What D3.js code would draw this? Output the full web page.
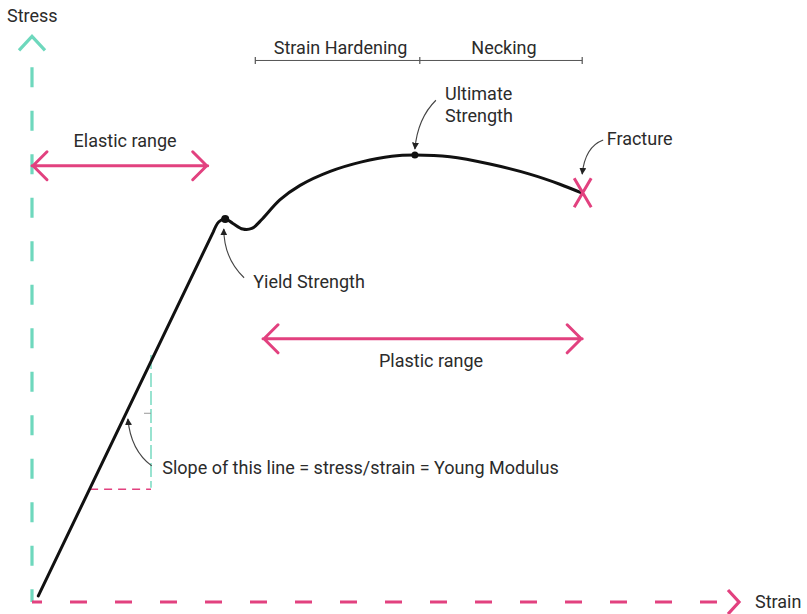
<!DOCTYPE html>
<html>
<head>
<meta charset="utf-8">
<script src="https://cdn.jsdelivr.net/npm/d3@7"></script>
<style>
  html, body { margin: 0; padding: 0; background: #ffffff; }
  svg { display: block; }
  text { font-family: Roboto, "Noto Sans", sans-serif; font-size: 18px; fill: #2b2b2b; }
</style>
</head>
<body>
<div id="chart"></div>
<script>
// Stress–strain curve of a ductile metal (arbitrary units, 0–100 on both axes)
const strain = [0.9, 25.9, 26.7, 27.6, 28.7, 30.1, 31.4, 32.9, 35.4, 38.3, 42.6, 47.1, 51.4, 54.7, 59.7, 65.4, 71.1, 75.4, 78.6];
const stress = [1.1, 66.1, 67.9, 68.4, 67.6, 66.6, 66.7, 68.4, 71.8, 74.4, 76.9, 78.6, 79.6, 79.8, 79.5, 78.2, 76.4, 74.6, 73.0];
const yieldIndex = 3;
const ultimateIndex = 13;

// Extent of the axes (arrow tips)
const axisMax = [101, 101];

// Ranges marked with double arrows: [from strain, to strain, at stress]
const elasticRange = [0, 25.1, 77.9];
const plasticRange = [33, 78.6, 47.0];

// Bracket above the curve: tick positions and the stress level of the bracket
const bracketTicks = [31.9, 55.4, 78.6];
const bracketLevel = 96.7;
const bracketLabels = ["Strain Hardening", "Necking"];

// Slope triangle: [strain of the vertical leg, top stress, bottom stress, left strain]
const slopeTriangle = [17, 44.1, 20.4, 8.3];

// Callout arrows: start, control point, tip (strain, stress)
const callouts = [
  [[30.3, 57.9], [27.4, 61.4], [27.4, 66.6]],   // yield strength
  [[57.7, 89.6], [55.1, 86.4], [54.7, 80.9]],   // ultimate strength
  [[81.6, 82.5], [79.0, 81.3], [78.6, 76.4]],   // fracture
  [[17.1, 24.3], [14.1, 27.1], [13.7, 32.7]]    // slope
];

// Text labels: [text, strain, stress, anchor]
const labels = [
  ["Elastic range", 13.3, 81.2, "middle"],
  ["Plastic range", 57.0, 42.0, "middle"],
  ["Ultimate", 59.0, 89.6, "start"],
  ["Strength", 59.0, 85.8, "start"],
  ["Fracture", 82.1, 81.6, "start"],
  ["Yield Strength", 31.6, 56.1, "start"],
  ["Slope of this line = stress/strain = Young Modulus", 18.6, 22.8, "start"]
];

const W = 807, H = 614;
const PINK = "#e2417f", TEAL = "#6ed8bd", INK = "#111111", GREY = "#555555";

const x = d3.scaleLinear().domain([0, 100]).range([32, 732]);
const y = d3.scaleLinear().domain([0, 100]).range([602, 42]);

const svg = d3.select("#chart").append("svg").attr("width", W).attr("height", H);

svg.append("defs").append("marker")
  .attr("id", "tip").attr("viewBox", "0 0 10 10").attr("refX", 9).attr("refY", 5)
  .attr("markerWidth", 7).attr("markerHeight", 7).attr("markerUnits", "userSpaceOnUse")
  .attr("orient", "auto")
  .append("path").attr("d", "M0,0L10,5L0,10Z").attr("fill", "#222");

// ---- axes ----
// y axis (stress), teal dashed with chevron tip
svg.append("line")
  .attr("x1", x(0)).attr("x2", x(0))
  .attr("y1", y(95.5)).attr("y2", y(0))
  .attr("stroke", TEAL).attr("stroke-width", 3.2)
  .attr("stroke-dasharray", "20 23.5");
svg.append("path")
  .attr("d", `M${x(0) - 13},${y(axisMax[1]) + 14}L${x(0)},${y(axisMax[1])}L${x(0) + 13},${y(axisMax[1]) + 14}`)
  .attr("fill", "none").attr("stroke", TEAL).attr("stroke-width", 3.2);

// x axis (strain), pink dashed with chevron tip
svg.append("line")
  .attr("x1", x(0)).attr("x2", x(98.5))
  .attr("y1", y(0)).attr("y2", y(0))
  .attr("stroke", PINK).attr("stroke-width", 3.2)
  .attr("stroke-dasharray", "17 28").attr("stroke-dashoffset", 7);
svg.append("path")
  .attr("d", `M${x(axisMax[0]) - 11},${y(0) - 12}L${x(axisMax[0])},${y(0)}L${x(axisMax[0]) - 11},${y(0) + 12}`)
  .attr("fill", "none").attr("stroke", PINK).attr("stroke-width", 3.2);

svg.append("text").attr("x", x(0) - 25).attr("y", 22).text("Stress");
svg.append("text").attr("x", x(axisMax[0]) + 16).attr("y", y(0) + 6).text("Strain");

// ---- bracket: strain hardening / necking ----
svg.append("line")
  .attr("x1", x(bracketTicks[0])).attr("x2", x(bracketTicks[bracketTicks.length - 1]))
  .attr("y1", y(bracketLevel)).attr("y2", y(bracketLevel))
  .attr("stroke", GREY).attr("stroke-width", 1);
svg.selectAll("line.btick").data(bracketTicks).enter().append("line")
  .attr("class", "btick")
  .attr("x1", d => x(d)).attr("x2", d => x(d))
  .attr("y1", y(bracketLevel) - 3.5).attr("y2", y(bracketLevel) + 3.5)
  .attr("stroke", GREY).attr("stroke-width", 1.2);
bracketLabels.forEach((t, i) => {
  svg.append("text")
    .attr("x", (x(bracketTicks[i]) + x(bracketTicks[i + 1])) / 2 + 3)
    .attr("y", y(bracketLevel) - 6)
    .attr("text-anchor", "middle").text(t);
});

// ---- slope triangle ----
svg.append("line")
  .attr("x1", x(slopeTriangle[0])).attr("x2", x(slopeTriangle[0]))
  .attr("y1", y(slopeTriangle[1])).attr("y2", y(slopeTriangle[2]))
  .attr("stroke", TEAL).attr("stroke-width", 1.4).attr("stroke-dasharray", "14 4");
svg.append("line")
  .attr("x1", x(slopeTriangle[3])).attr("x2", x(slopeTriangle[0]))
  .attr("y1", y(slopeTriangle[2]) + 1.5).attr("y2", y(slopeTriangle[2]) + 1.5)
  .attr("stroke", PINK).attr("stroke-width", 1.6).attr("stroke-dasharray", "8 6");
// small angle tick on the vertical leg
svg.append("line")
  .attr("x1", x(slopeTriangle[0]) - 7).attr("x2", x(slopeTriangle[0]))
  .attr("y1", y(33.7)).attr("y2", y(33.7))
  .attr("stroke", "#999").attr("stroke-width", 1);

// ---- the stress-strain curve ----
const pts = strain.map((s, i) => [x(s), y(stress[i])]);
const smooth = d3.line().curve(d3.curveCatmullRom.alpha(0.5))(pts.slice(1));
svg.append("path")
  .attr("d", `M${pts[0][0]},${pts[0][1]}L` + smooth.slice(1))
  .attr("fill", "none").attr("stroke", INK).attr("stroke-width", 3)
  .attr("stroke-linejoin", "round").attr("stroke-linecap", "round");

svg.append("circle").attr("cx", pts[yieldIndex][0]).attr("cy", pts[yieldIndex][1]).attr("r", 4).attr("fill", INK);
svg.append("circle").attr("cx", pts[ultimateIndex][0]).attr("cy", pts[ultimateIndex][1]).attr("r", 3.5).attr("fill", INK);

// fracture cross
const fr = pts[pts.length - 1];
svg.append("path")
  .attr("d", `M${fr[0] - 8},${fr[1] - 15}L${fr[0] + 9},${fr[1] + 14}M${fr[0] + 9},${fr[1] - 15}L${fr[0] - 8},${fr[1] + 14}`)
  .attr("stroke", PINK).attr("stroke-width", 3).attr("fill", "none");

// ---- range arrows ----
function doubleArrow(r) {
  const x0 = x(r[0]), x1 = x(r[1]), yy = y(r[2]);
  svg.append("path")
    .attr("d", `M${x0},${yy}L${x1},${yy}M${x0 + 15},${yy - 14}L${x0 + 1},${yy}L${x0 + 15},${yy + 14}M${x1 - 15},${yy - 14}L${x1 - 1},${yy}L${x1 - 15},${yy + 14}`)
    .attr("fill", "none").attr("stroke", PINK).attr("stroke-width", 3)
    .attr("stroke-linejoin", "round").attr("stroke-linecap", "round");
}
doubleArrow(elasticRange);
doubleArrow(plasticRange);

// ---- callouts ----
svg.selectAll("path.callout").data(callouts).enter().append("path")
  .attr("class", "callout")
  .attr("d", c => `M${x(c[0][0])},${y(c[0][1])}Q${x(c[1][0])},${y(c[1][1])} ${x(c[2][0])},${y(c[2][1])}`)
  .attr("fill", "none").attr("stroke", "#444").attr("stroke-width", 1.1)
  .attr("marker-end", "url(#tip)");

// ---- labels ----
svg.selectAll("text.lbl").data(labels).enter().append("text")
  .attr("class", "lbl")
  .attr("x", d => x(d[1])).attr("y", d => y(d[2]))
  .attr("text-anchor", d => d[3])
  .text(d => d[0]);
</script>
</body>
</html>
